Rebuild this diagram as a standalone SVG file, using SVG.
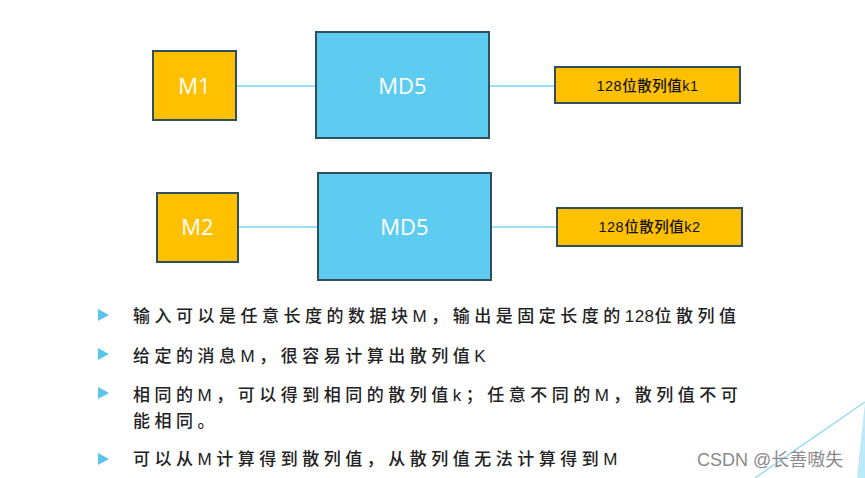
<svg xmlns="http://www.w3.org/2000/svg" width="865" height="478" viewBox="0 0 865 478">
<style>
.box{stroke:#2f4f5f;stroke-width:2}
.org{fill:#FFC000}
.blu{fill:#5ECCF0}
.wt{fill:#fff;font-family:"Open Sans","Liberation Sans","Noto Sans CJK SC",sans-serif;font-size:22px;text-anchor:middle}
.bt{fill:#111;font-family:"Liberation Sans","Noto Sans CJK SC",sans-serif;font-size:14.5px;letter-spacing:0.5px;text-anchor:middle;font-weight:500}
.conn line{stroke:#7DD3F0;stroke-width:1.6}
.txt{fill:#222;font-family:"Liberation Sans","Noto Sans CJK SC",sans-serif;font-size:17px;letter-spacing:4.5px;font-weight:500}
.bul{fill:#5AC4EC}
</style>
<rect width="865" height="478" fill="#fff"/>
<g class="conn">
<line x1="236" y1="86" x2="316" y2="86"/>
<line x1="489" y1="86" x2="555" y2="86"/>
<line x1="238" y1="227" x2="318" y2="227"/>
<line x1="491" y1="227" x2="557" y2="227"/>
</g>
<g id="m1"><rect class="box org" x="153" y="51" width="83" height="69"/><text class="wt" x="194.5" y="94">M1</text></g>
<g id="md5a"><rect class="box blu" x="316" y="32" width="173" height="106"/><text class="wt" x="402.5" y="94">MD5</text></g>
<g id="k1"><rect class="box org" x="555" y="67" width="185" height="36"/><text class="bt" x="647.5" y="91">128位散列值k1</text></g>
<g id="m2"><rect class="box org" x="157" y="193" width="81" height="69"/><text class="wt" x="197.5" y="235">M2</text></g>
<g id="md5b"><rect class="box blu" x="318" y="173" width="173" height="107"/><text class="wt" x="404.5" y="235">MD5</text></g>
<g id="k2"><rect class="box org" x="557" y="208" width="185" height="38"/><text class="bt" x="649.5" y="232">128位散列值k2</text></g>
<g id="bullets">
<polygon class="bul" points="98,309 109,315 98,321"/>
<polygon class="bul" points="98,348 109,354 98,360"/>
<polygon class="bul" points="98,387 109,393 98,399"/>
<polygon class="bul" points="98,453 109,459 98,465"/>
<text class="txt" x="133" y="322">输入可以是任意长度的数据块M，输出是固定长度的<tspan letter-spacing="0.5">128</tspan>位散列值</text>
<text class="txt" x="133" y="362">给定的消息M，很容易计算出散列值K</text>
<text class="txt" x="133" y="401">相同的M，可以得到相同的散列值k；任意不同的M，散列值不可</text>
<text class="txt" x="133" y="427">能相同。</text>
<text class="txt" x="133" y="465">可以从M计算得到散列值，从散列值无法计算得到M</text>
</g>
<g id="deco">
<line x1="865" y1="402" x2="755" y2="478" stroke="#8FDAF2" stroke-width="1.3"/>
<polygon points="865,402 857,478 865,478" fill="#BDE9F8"/>
</g>
<text x="697" y="466" fill="#8a8a8a" font-family="Liberation Sans,'Noto Sans CJK SC',sans-serif" font-size="18">CSDN @长善嗷失</text>
</svg>
